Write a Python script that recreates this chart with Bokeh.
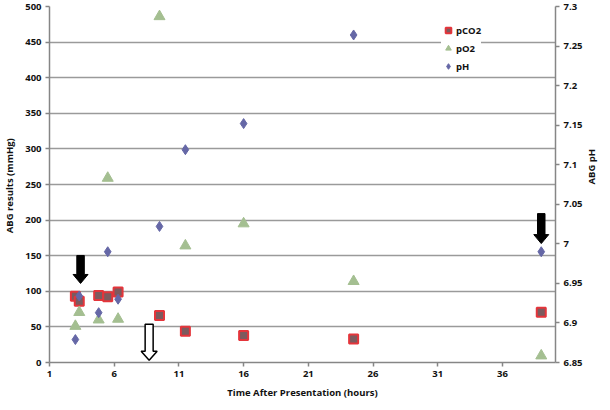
import math
from bokeh.plotting import figure
from bokeh.models import (Range1d, LinearAxis, FixedTicker, CustomJSTickFormatter,
                          Legend, LegendItem, ColumnDataSource)
from bokeh.embed import file_html
from bokeh.resources import INLINE

# ---- data ----
hours = [3.0, 3.3, 4.8, 5.5, 6.3, 9.5, 11.5, 16.0, 24.5, 39.0]
pco2 = [93, 86, 94, 92.5, 99, 66, 44, 38, 33, 70.5]
po2 = [51, 70.5, 60, 259, 61, 486, 164, 195, 114, 9.5]
ph = [6.879, 6.934, 6.913, 6.99, 6.93, 7.022, 7.119, 7.152, 7.264, 6.99]

x_ticks = [1, 6, 11, 16, 21, 26, 31, 36]
y_ticks = [0, 50, 100, 150, 200, 250, 300, 350, 400, 450, 500]
ph_ticks = [6.85, 6.9, 6.95, 7.0, 7.05, 7.1, 7.15, 7.2, 7.25, 7.3]

# annotation arrows: tip position (hours, mmHg), length in px, hollow?
arrow_x = [3.4, 39.0, 8.7]
arrow_y = [111, 167, 3]
arrow_len = [28, 30, 36]
arrow_hollow = [False, False, True]

X0, X1 = 1, 40.1
Y0, Y1 = 0, 500
P0, P1 = 6.85, 7.3
FW, FH = 506, 356

FONT = "Open Sans"

p = figure(frame_width=FW, frame_height=FH, output_backend="svg", toolbar_location=None,
           x_range=Range1d(X0, X1), y_range=Range1d(Y0, Y1),
           min_border_left=0, min_border_right=0, min_border_top=6, min_border_bottom=0)
p.extra_y_ranges = {"ph": Range1d(P0, P1)}
p.outline_line_color = None
p.background_fill_color = "white"

# axes styling
def style_axis(ax):
    ax.axis_line_color = "#868686"
    ax.axis_line_width = 1.5
    ax.major_tick_line_color = "#868686"
    ax.major_tick_line_width = 1.5
    ax.major_tick_out = 4
    ax.major_tick_in = 0
    ax.minor_tick_line_color = None
    ax.major_label_text_font = FONT
    ax.major_label_text_font_style = "bold"
    ax.major_label_text_font_size = "9.5px"
    ax.major_label_text_color = "#111111"
    ax.major_label_standoff = 4
    ax.axis_label_text_font = FONT
    ax.axis_label_text_font_style = "bold"
    ax.axis_label_text_font_size = "9.5px"
    ax.axis_label_text_color = "#111111"
    ax.axis_label_standoff = 6

p.xaxis.ticker = FixedTicker(ticks=x_ticks)
p.xaxis.axis_label = "Time After Presentation (hours)"
p.yaxis.ticker = FixedTicker(ticks=y_ticks)
p.yaxis.axis_label = "ABG results  (mmHg)"
style_axis(p.xaxis[0])
style_axis(p.yaxis[0])

ph_axis = LinearAxis(y_range_name="ph", axis_label="ABG pH",
                     ticker=FixedTicker(ticks=ph_ticks),
                     formatter=CustomJSTickFormatter(code="return String(Math.round(tick*100)/100);"))
style_axis(ph_axis)
ph_axis.axis_label_orientation = math.pi / 2
p.add_layout(ph_axis, "right")

p.xgrid.grid_line_color = None
p.ygrid.grid_line_color = "#9a9a9a"
p.ygrid.grid_line_width = 1.5
p.ygrid.ticker = FixedTicker(ticks=y_ticks[1:])

# series
src = ColumnDataSource(dict(h=hours, pco2=pco2, po2=po2, ph=ph))
r_co2 = p.scatter("h", "pco2", source=src, marker="square", size=9,
                  fill_color="#7d5a5e", line_color="#e4353b", line_width=2)
r_o2 = p.scatter("h", "po2", source=src, marker="triangle", size=11,
                 fill_color="#a4bf91", line_color="#a4bf91", line_width=1)
r_ph = p.scatter("h", "ph", source=src, marker="diamond", size=10, y_range_name="ph",
                 fill_color="#6567a6", line_color="#6567a6", line_width=1)

# arrows (shape in screen pixels converted to data units)
xpp = (X1 - X0) / FW
ypp = (Y1 - Y0) / FH
for ax_, ay_, L, hollow in zip(arrow_x, arrow_y, arrow_len, arrow_hollow):
    sw, hw, hl = (8, 16, 9) if hollow else (7.5, 15, 9)
    pts = [(-sw / 2, L), (-sw / 2, hl), (-hw / 2, hl), (0, 0), (hw / 2, hl), (sw / 2, hl), (sw / 2, L)]
    xs = [ax_ + dx * xpp for dx, dy in pts]
    ys = [ay_ + dy * ypp for dx, dy in pts]
    if hollow:
        p.patch(xs, ys, fill_color="white", line_color="black", line_width=1.5)
    else:
        p.patch(xs, ys, fill_color="black", line_color="black", line_width=1)

legend = Legend(items=[LegendItem(label="pCO2", renderers=[r_co2]),
                       LegendItem(label="pO2", renderers=[r_o2]),
                       LegendItem(label="pH", renderers=[r_ph])],
                location=(int(FW * 0.775), FH - 68))
legend.border_line_color = None
legend.background_fill_color = "white"
legend.background_fill_alpha = 1
legend.label_text_font = FONT
legend.label_text_font_style = "bold"
legend.label_text_font_size = "9.5px"
legend.label_text_color = "#111111"
legend.glyph_width = 14
legend.glyph_height = 16
legend.label_height = 16
legend.spacing = 2
legend.padding = 3
legend.margin = 0
legend.label_standoff = 1
p.add_layout(legend)

open("out.html", "w").write(file_html(p, INLINE))
